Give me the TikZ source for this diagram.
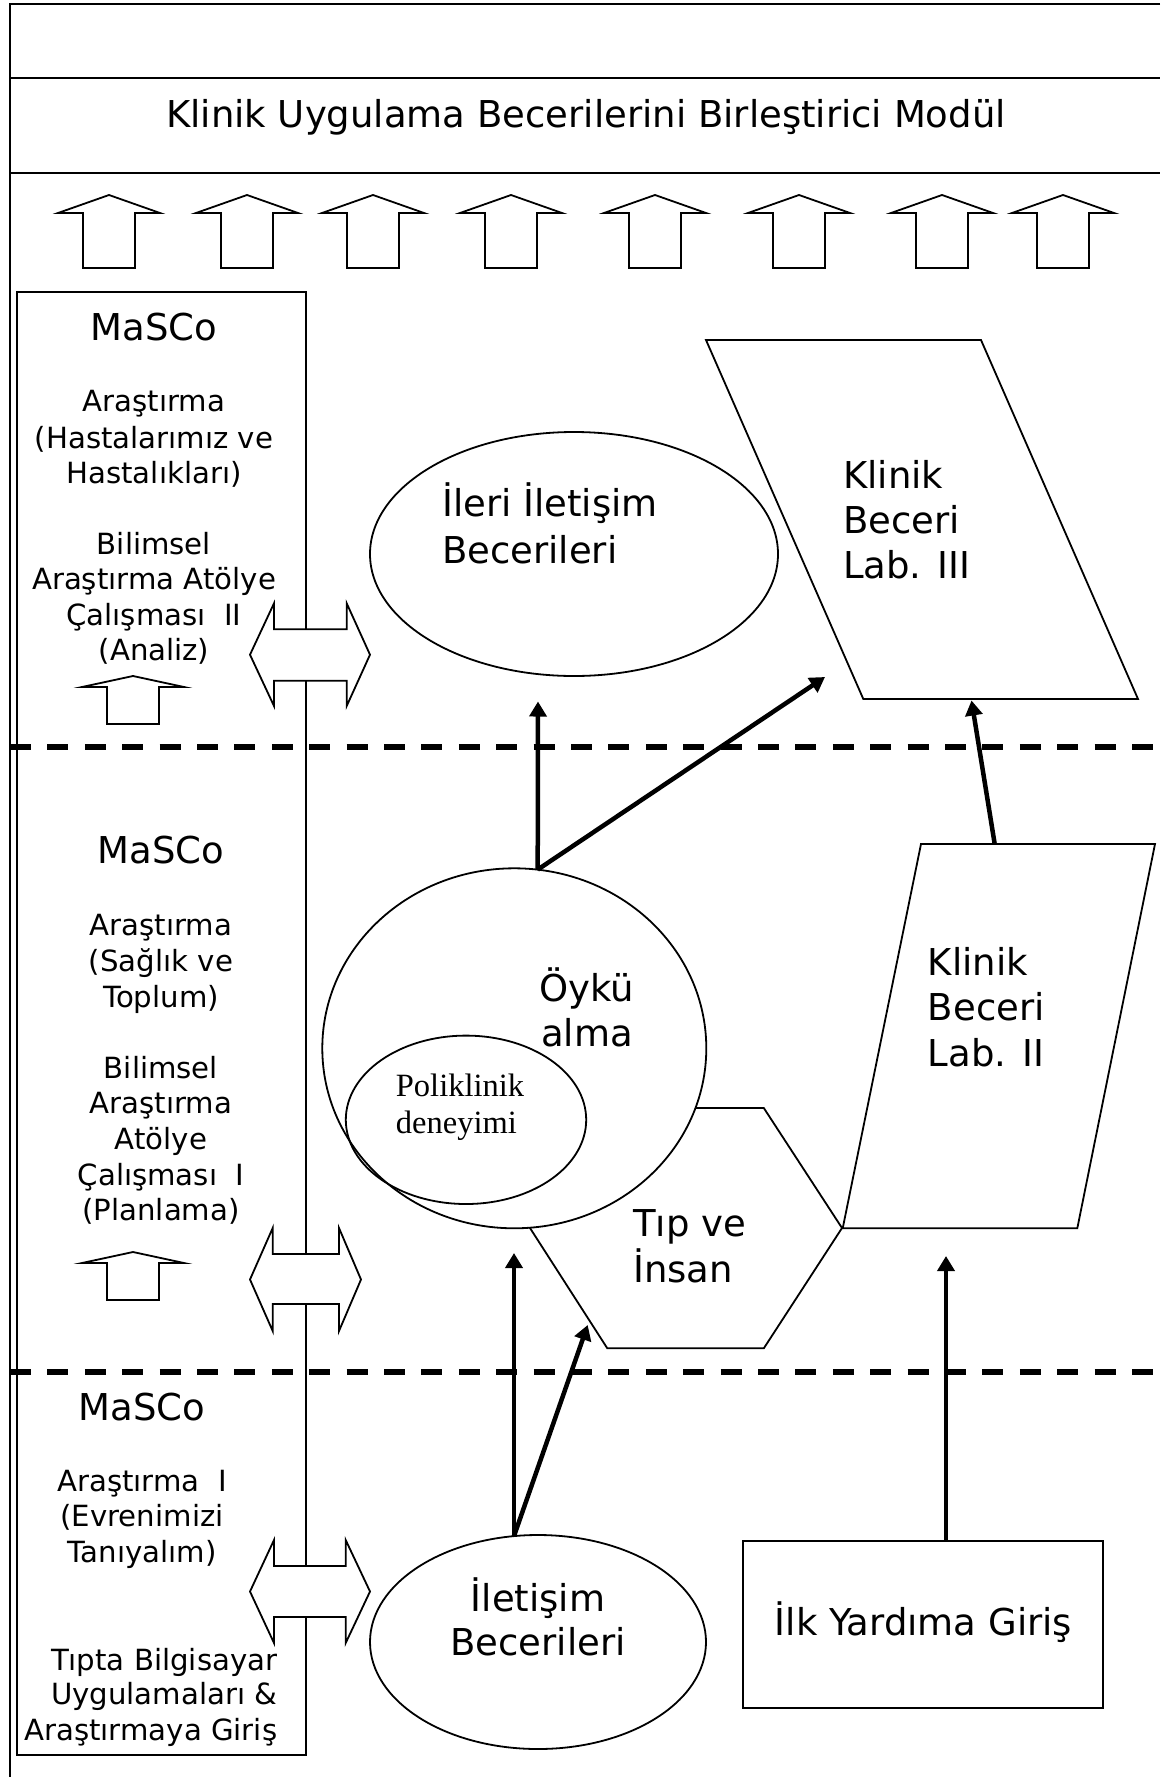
\documentclass[tikz,border=0pt]{standalone}
\usepackage{fontspec}
\setmainfont{DejaVu Sans}
\newfontfamily\pkserif{Liberation Serif}
\usetikzlibrary{arrows.meta,shapes.geometric}
\tikzset{
  frameline/.style={line width=2pt},
  shp/.style={draw, line width=1.8pt, fill=white, line join=miter},
  thinbox/.style={draw, line width=1.8pt},
  sepline/.style={line width=6pt, dash pattern=on 21pt off 16.4pt},
  big/.style={font=\fontsize{37}{45}\selectfont, inner sep=0pt, anchor=base},
  bigl/.style={big, anchor=base west},
  small/.style={font=\fontsize{29.2}{35}\selectfont, inner sep=0pt, anchor=base},
  smallr/.style={small, anchor=base east},
  pk/.style={font=\pkserif\fontsize{32.5}{37}\selectfont, inner sep=0pt, anchor=base west},
  conn/.style={line width=4.5pt, -{Triangle[length=15pt,width=17pt]}},
  ell/.style={draw, ellipse, line width=1.8pt, inner sep=0pt, outer sep=0pt, fill=white},
  uparrow/.pic={\draw[shp] (-26,0) -- (-26,-55) -- (-51,-55) -- (0,-73) -- (51,-55) -- (26,-55) -- (26,0) -- cycle;},
  smallup/.pic={\draw[shp] (-26,0) -- (-26,-37) -- (-51,-37) -- (0,-48) -- (51,-37) -- (26,-37) -- (26,0) -- cycle;},
}
\begin{document}
\begin{tikzpicture}[x=1pt,y=-1pt]
\useasboundingbox (0,0) rectangle (1160,1777);
% outer frame
\draw[frameline] (1160,4) -- (9.5,4) -- (9.5,1777);
\draw[frameline] (9.5,77.7) -- (1160,77.7);
\draw[frameline] (9.5,173) -- (1160,173);
\node[big] (title) at (586,127) {Klinik Uygulama Becerilerini Birleştirici Modül};
% up arrows
\foreach \cx in {109,247,373,511,655,799,942,1063} {\pic at (\cx,268) {uparrow};}
% dashed separators
\draw[sepline] (10,747) -- (1160,747);
\draw[sepline] (10,1372) -- (1160,1372);
% MaSCo column box
\draw[thinbox] (17.3,292) rectangle (306,1755);
% section 1 texts
\node[big] (m1) at (154,340) {MaSCo};
\node[small] (m1a) at (154,411.7) {Araştırma};
\node[small] (m1b) at (154,448) {(Hastalarımız ve};
\node[small] (m1c) at (154,483) {Hastalıkları)};
\node[small] (m1d) at (154,554) {Bilimsel};
\node[small] (m1e) at (154,589) {Araştırma Atölye};
\node[small] (m1f) at (154,625) {Çalışması\ \ II};
\node[small] (m1g) at (154,660) {(Analiz)};
\pic at (133,724) {smallup};
\draw[shp] (250,654.7) -- (274,603.3) -- (274,629.3) -- (346.7,629.3) -- (346.7,603.3) -- (370,654.7) -- (346.7,706) -- (346.7,680.7) -- (274,680.7) -- (274,706) -- cycle;
% section 2 texts
\node[big] (m2) at (161,863) {MaSCo};
\node[small] (m2a) at (161,935) {Araştırma};
\node[small] (m2b) at (161,971) {(Sağlık ve};
\node[small] (m2c) at (161,1007) {Toplum)};
\node[small] (m2d) at (161,1078) {Bilimsel};
\node[small] (m2e) at (161,1113) {Araştırma};
\node[small] (m2f) at (161,1149) {Atölye};
\node[small] (m2g) at (161,1185) {Çalışması\ \ I};
\node[small] (m2h) at (161,1220) {(Planlama)};
\pic at (133,1300) {smallup};
\draw[shp] (250,1279.5) -- (272.7,1228) -- (272.7,1254) -- (339,1254) -- (339,1228) -- (361,1279.5) -- (339,1331) -- (339,1304) -- (272.7,1304) -- (272.7,1331) -- cycle;
% section 3 texts
\node[big] (m3) at (142,1420) {MaSCo};
\node[small] (m3a) at (142,1491.7) {Araştırma\ \ I};
\node[small] (m3b) at (142,1526.7) {(Evrenimizi};
\node[small] (m3c) at (142,1562.7) {Tanıyalım)};
\node[smallr] (m3d) at (277.5,1670) {Tıpta Bilgisayar};
\node[smallr] (m3e) at (277.5,1704.3) {Uygulamaları \&};
\node[smallr] (m3f) at (277.5,1740) {Araştırmaya Giriş};
\draw[shp] (250,1591.5) -- (274,1540) -- (274,1566) -- (345.7,1566) -- (345.7,1540) -- (370,1591.5) -- (345.7,1643) -- (345.7,1617) -- (274,1617) -- (274,1643) -- cycle;
% Ileri Iletisim ellipse
\node[ell, minimum width=408pt, minimum height=244pt] (ileri) at (574,554) {};
\node[bigl] (ileriA) at (442,516.6) {İleri İletişim};
\node[bigl] (ileriB) at (442,563) {Becerileri};
% Klinik Beceri Lab III
\draw[shp] (706,340) -- (981,340) -- (1138,699) -- (863.3,699) -- cycle;
\node[bigl] (lab3a) at (843,488) {Klinik};
\node[bigl] (lab3b) at (843,533) {Beceri};
\node[bigl] (lab3c) at (843,578) {Lab. III};
% Klinik Beceri Lab II
\draw[shp] (921,844) -- (1155,844) -- (1077.3,1228.3) -- (842.7,1228.3) -- cycle;
\node[bigl] (lab2a) at (927.7,975) {Klinik};
\node[bigl] (lab2b) at (927.7,1020.7) {Beceri};
\node[bigl] (lab2c) at (927.7,1066) {Lab. II};
% Tip ve Insan hexagon
\draw[shp] (530,1228) -- (607.3,1108) -- (763.8,1108) -- (842,1228) -- (763.8,1348.3) -- (607.3,1348.3) -- cycle;
\node[bigl] (tipA) at (633,1236) {Tıp ve};
\node[bigl] (tipB) at (633,1282) {İnsan};
% Oyku alma circle
\node[ell, minimum width=384pt, minimum height=360pt] (oyku) at (514.3,1048.3) {};
\node[big] (oykuA) at (587,1001.7) {Öykü};
\node[big] (oykuB) at (587,1046.7) {alma};
\node[draw, ellipse, line width=1.8pt, inner sep=0pt, outer sep=0pt, minimum width=240.4pt, minimum height=168.4pt] (polik) at (466,1119.8) {};
\node[pk] (polikA) at (395.7,1096.7) {Poliklinik};
\node[pk] (polikB) at (395.7,1133.3) {deneyimi};
% Iletisim Becerileri ellipse
\node[ell, minimum width=336pt, minimum height=214pt] (ilet) at (538,1642) {};
\node[big] (iletA) at (538,1611) {İletişim};
\node[big] (iletB) at (538,1655) {Becerileri};
% Ilk Yardima Giris box
\node[draw, line width=1.8pt, fill=white, minimum width=360pt, minimum height=167.6pt, inner sep=0pt, outer sep=0pt] (ilk) at (923.3,1624.5) {};
\node[big] (ilkT) at (923.5,1635) {İlk Yardıma Giriş};
% connector end points
\coordinate (oykuTop) at (537.7,869.6);
\coordinate (ileriTip) at (538,701.5);
\coordinate (lab3Tip) at (825,677);
\coordinate (lab2Top) at (994.7,844);
\coordinate (lab3Bot) at (971.5,700.5);
\coordinate (iletTop) at (514,1536);
\coordinate (oykuTip) at (514,1253);
\coordinate (hexTip) at (587.7,1325);
\coordinate (ilkTop) at (946,1540.7);
\coordinate (lab2Tip) at (946,1256);
% connectors
\draw[conn] (oykuTop) -- (ileriTip);
\draw[conn] (oykuTop) -- (lab3Tip);
\draw[conn] (lab2Top) -- (lab3Bot);
\draw[conn] (iletTop) -- (oykuTip);
\draw[conn] (iletTop) -- (hexTip);
\draw[conn] (ilkTop) -- (lab2Tip);
\end{tikzpicture}
\end{document}
